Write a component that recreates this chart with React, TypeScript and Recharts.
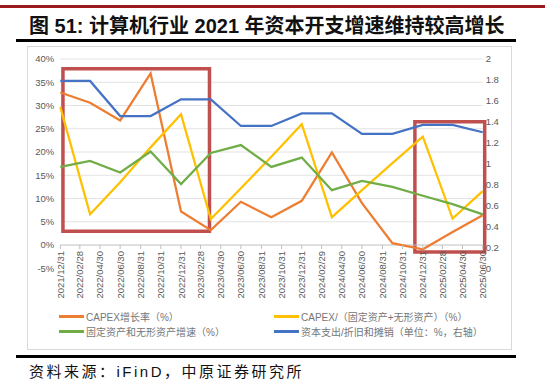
import React from "react";
import {
  LineChart,
  Line,
  XAxis,
  YAxis,
  CartesianGrid,
  ReferenceLine,
  ReferenceArea,
} from "recharts";

// quarterly observations (Excel date axis)
const dates = [
  "2021/12/31", "2022/03/31", "2022/06/30", "2022/09/30", "2022/12/31",
  "2023/03/31", "2023/06/30", "2023/09/30", "2023/12/31", "2024/03/31",
  "2024/06/30", "2024/09/30", "2024/12/31", "2025/03/31", "2025/06/30",
];
const capexGrowth = [32.8, 30.6, 26.8, 36.9, 7.2, 3.2, 9.3, 6.0, 9.5, 19.9, 9.0, 0.4, -0.9, 2.8, 6.4];
const capexRatio = [29.7, 6.6, 13.5, 21.0, 28.1, 5.6, 12.2, 19.0, 26.0, 6.0, 11.8, 17.6, 23.3, 5.7, 11.6];
const assetGrowth = [16.8, 18.1, 15.6, 20.1, 13.1, 19.8, 21.5, 16.8, 18.8, 11.8, 13.8, 12.5, 10.6, 8.8, 6.6];
const capexToDa = [1.79, 1.79, 1.455, 1.455, 1.615, 1.615, 1.36, 1.36, 1.48, 1.48, 1.285, 1.285, 1.37, 1.37, 1.3];

const tickLabels = [
  "2021/12/31", "2022/02/28", "2022/04/30", "2022/06/30", "2022/08/31", "2022/10/31",
  "2022/12/31", "2023/02/28", "2023/04/30", "2023/06/30", "2023/08/31", "2023/10/31",
  "2023/12/31", "2024/02/29", "2024/04/30", "2024/06/30", "2024/08/31", "2024/10/31",
  "2024/12/31", "2025/02/28", "2025/04/30", "2025/06/30",
];
const leftTicks = [-5, 0, 5, 10, 15, 20, 25, 30, 35, 40];
const rightTicks = [0, 0.2, 0.4, 0.6, 0.8, 1, 1.2, 1.4, 1.6, 1.8, 2];

const seriesNames = [
  "CAPEX增长率（%）",
  "CAPEX/（固定资产+无形资产）（%）",
  "固定资产和无形资产增速（%）",
  "资本支出/折旧和摊销（单位：%，右轴）",
];
const seriesColors = ["#ED7D31", "#FFC000", "#70AD47", "#4472C4"];

// highlighted periods (red boxes)
const boxes = [
  { x1: "2022/01/08", x2: "2023/03/27", y1: 2.97, y2: 37.9 },
  { x1: "2024/12/07", x2: "2025/07/06", y1: -1.5, y2: 26.5 },
];

const toTs = (s: string) => {
  const [y, m, d] = s.split("/").map(Number);
  return Date.UTC(y, m - 1, d);
};

const data = dates.map((d, i) => ({
  t: toTs(d),
  growth: capexGrowth[i],
  ratio: capexRatio[i],
  asset: assetGrowth[i],
  da: capexToDa[i],
}));

const W = 551;
const H = 387;
const PLOT_TOP = 59;
const PLOT_BOTTOM = 268.3;
const PLOT_LEFT = 60.3;
const PLOT_RIGHT = 482.7;
const LEFT_AXIS_W = 40;
const RIGHT_AXIS_W = 30;
const X_AXIS_H = 30;
const PLOT_H = PLOT_BOTTOM - PLOT_TOP;
// horizontal axis crosses at 0%, one 5% step above the bottom
const AXIS_SHIFT = (PLOT_H * 5) / 45;

const tickFont = "'Liberation Sans', Arial, sans-serif";
const cjkFont = "'Liberation Sans', 'Noto Sans CJK SC', sans-serif";

function DateTick({ x, y, payload }: any) {
  const y0 = y - AXIS_SHIFT;
  const label = tickLabels.find((l) => toTs(l) === payload.value) ?? "";
  return (
    <g>
      <line x1={x} x2={x} y1={y0} y2={y0 + 4} stroke="#bfbfbf" />
      <text
        x={x}
        y={y0 + 6}
        transform={`rotate(-90, ${x}, ${y0 + 6})`}
        textAnchor="end"
        dominantBaseline="central"
        fontSize={9.5}
        fontFamily={tickFont}
        fill="#595959"
      >
        {label}
      </text>
    </g>
  );
}

export default function App() {
  return (
    <div style={{ position: "absolute", left: 0, top: 0, width: W, height: H, background: "#fff" }}>
      <div style={{ position: "absolute", left: 0, top: 5, width: 545, height: 2.5, background: "#9B1B1F" }} />
      <div
        style={{
          position: "absolute",
          left: 29,
          top: 13,
          fontSize: 20,
          lineHeight: "26px",
          fontWeight: 700,
          fontFamily: cjkFont,
          color: "#111",
          whiteSpace: "nowrap",
        }}
      >
        图 51: 计算机行业 2021 年资本开支增速维持较高增长
      </div>
      <div style={{ position: "absolute", left: 16, top: 39, width: 500, height: 3, background: "#000" }} />

      <div
        style={{
          position: "absolute",
          left: 27,
          top: 46,
          width: 483,
          height: 302,
          border: "1px solid #d9d9d9",
        }}
      />

      <div style={{ position: "absolute", left: 0, top: 0 }}>
        <LineChart
          width={W}
          height={H}
          data={data}
          margin={{
            top: PLOT_TOP,
            left: PLOT_LEFT - LEFT_AXIS_W,
            right: W - PLOT_RIGHT - RIGHT_AXIS_W,
            bottom: H - PLOT_BOTTOM - X_AXIS_H,
          }}
        >
          <CartesianGrid
            yAxisId="left"
            vertical={false}
            stroke="#e3e3e3"
            horizontalValues={leftTicks.filter((v) => v > 0)}
          />
          <XAxis
            dataKey="t"
            type="number"
            scale="linear"
            domain={[toTs(dates[0]), toTs(dates[dates.length - 1])]}
            ticks={tickLabels.map(toTs)}
            interval={0}
            height={X_AXIS_H}
            tickSize={0}
            tickMargin={0}
            axisLine={false}
            tickLine={false}
            tick={<DateTick />}
          />
          <YAxis
            yAxisId="left"
            domain={[-5, 40]}
            ticks={leftTicks}
            width={LEFT_AXIS_W}
            tickSize={6}
            tickMargin={0}
            axisLine={false}
            tickLine={false}
            tickFormatter={(v: number) => `${v}%`}
            tick={{ fontSize: 9.5, fill: "#595959", fontFamily: tickFont }}
          />
          <YAxis
            yAxisId="right"
            orientation="right"
            domain={[0, 2]}
            ticks={rightTicks}
            width={RIGHT_AXIS_W}
            tickSize={3}
            tickMargin={0}
            axisLine={false}
            tickLine={false}
            tick={{ fontSize: 9.5, fill: "#595959", fontFamily: tickFont, textAnchor: "start" }}
          />
          <ReferenceLine yAxisId="left" y={0} stroke="#bfbfbf" />
          <Line yAxisId="left" dataKey="growth" stroke={seriesColors[0]} strokeWidth={2.25} dot={false} isAnimationActive={false} />
          <Line yAxisId="left" dataKey="ratio" stroke={seriesColors[1]} strokeWidth={2.25} dot={false} isAnimationActive={false} />
          <Line yAxisId="left" dataKey="asset" stroke={seriesColors[2]} strokeWidth={2.25} dot={false} isAnimationActive={false} />
          <Line yAxisId="right" dataKey="da" stroke={seriesColors[3]} strokeWidth={2.25} dot={false} isAnimationActive={false} />
          {boxes.map((b, i) => (
            <ReferenceArea
              key={i}
              yAxisId="left"
              x1={toTs(b.x1)}
              x2={toTs(b.x2)}
              y1={b.y1}
              y2={b.y2}
              fill="none"
              fillOpacity={0}
              stroke="#C0504D"
              strokeWidth={3.5}
              ifOverflow="visible"
            />
          ))}
        </LineChart>
      </div>

      {seriesNames.map((name, i) => (
        <div
          key={name}
          style={{
            position: "absolute",
            left: i % 2 === 0 ? 59 : 274,
            top: i < 2 ? 309 : 324,
            height: 15,
            display: "flex",
            alignItems: "center",
            whiteSpace: "nowrap",
            fontSize: 10,
            fontFamily: cjkFont,
            color: "#767676",
          }}
        >
          <span style={{ display: "inline-block", width: 25, height: 2.5, background: seriesColors[i], marginRight: 2 }} />
          {name}
        </div>
      ))}

      <div style={{ position: "absolute", left: 16, top: 355, width: 500, height: 3, background: "#000" }} />
      <div
        style={{
          position: "absolute",
          left: 29,
          top: 362,
          fontSize: 15,
          lineHeight: "20px",
          fontFamily: cjkFont,
          color: "#111",
          letterSpacing: 2.5,
          whiteSpace: "nowrap",
        }}
      >
        资料来源：iFinD，中原证券研究所
      </div>
    </div>
  );
}
